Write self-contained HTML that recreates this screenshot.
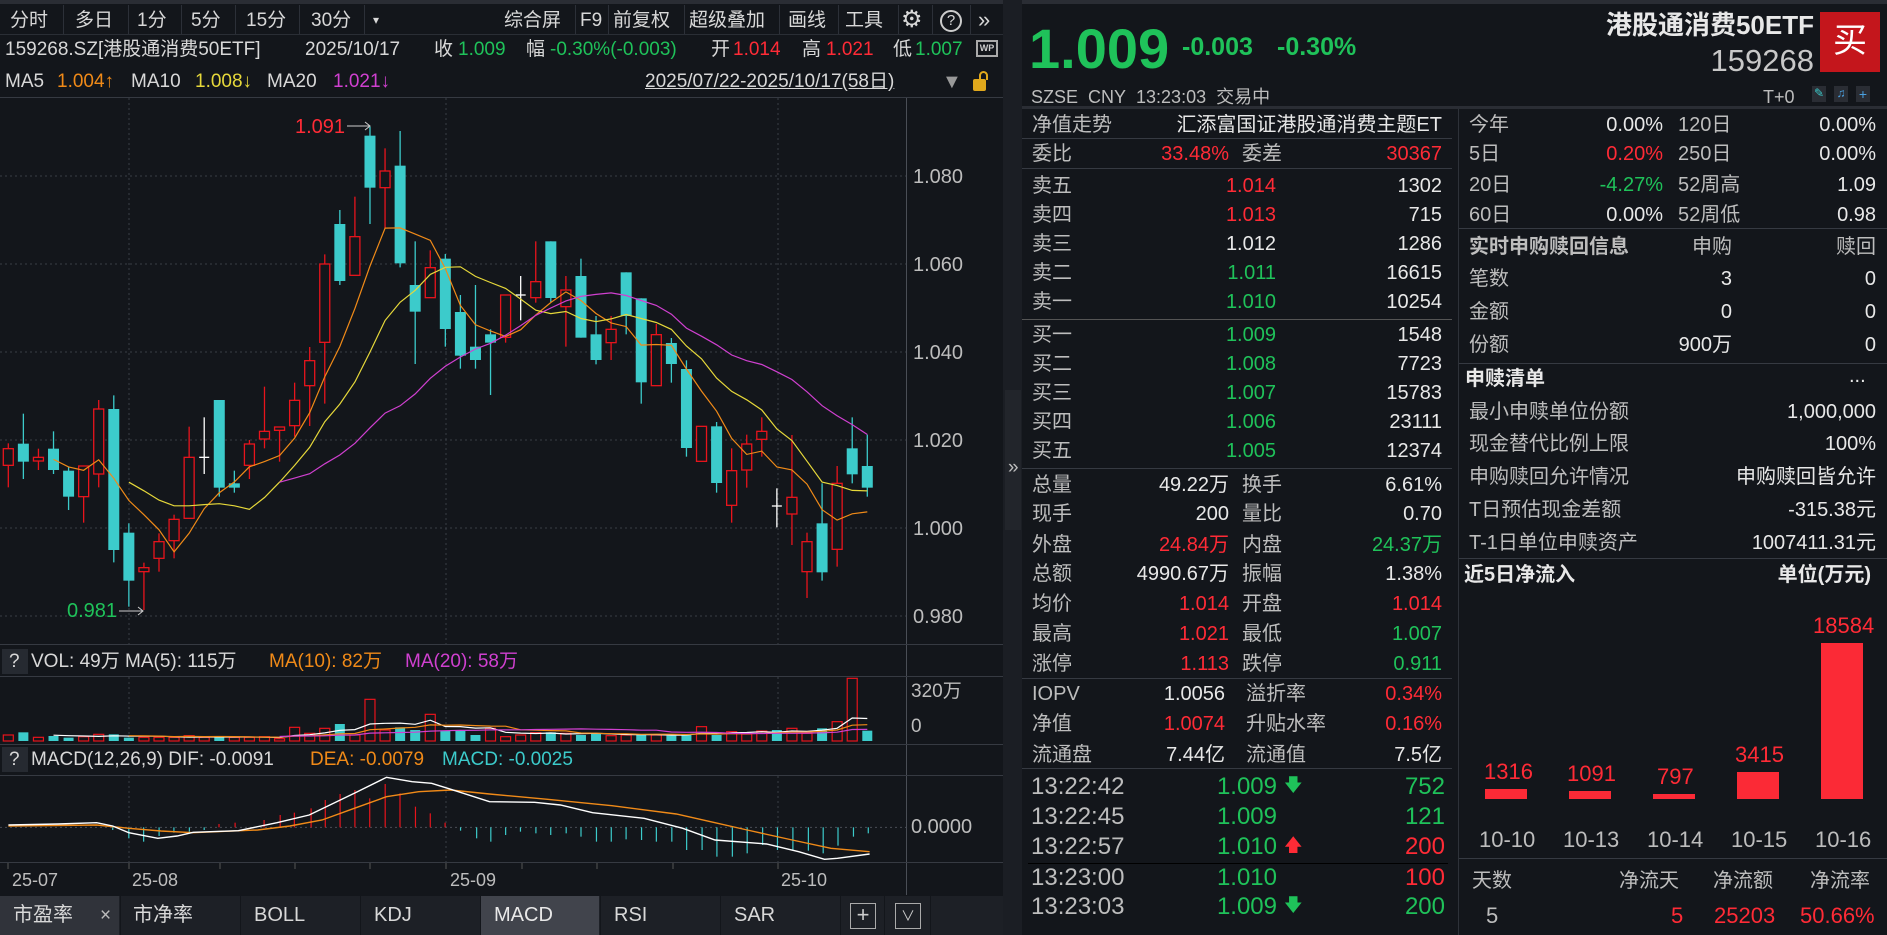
<!DOCTYPE html>
<html><head><meta charset="utf-8">
<style>
*{margin:0;padding:0;box-sizing:border-box}
body{width:1887px;height:935px;background:#13161b;overflow:hidden;font-family:"Liberation Sans","Noto Sans CJK SC",sans-serif;color:#d8d8d8}
.t{position:absolute;white-space:nowrap;line-height:1}
.r{color:#ff2b36}.g{color:#1fc25a}.w{color:#e8e8e8}.l{color:#bdbdbd}.o{color:#f08a18}.y{color:#e6d83a}.m{color:#d040d0}.c{color:#3ccbcb}
.f19{font-size:19px}.f20{font-size:20px}.f22{font-size:22px}.f24{font-size:24px}
.hl{position:absolute;height:1px;background:#363a42}
.vl{position:absolute;width:1px;background:#2c3038}
.b{font-weight:bold}
</style></head><body>
<div style="position:absolute;left:0;top:0;width:1887px;height:4px;background:#2a2d34"></div>
<div style="position:absolute;left:1003px;top:0;width:19px;height:935px;background:#1b1e24"></div>
<div style="position:absolute;left:1005px;top:390px;width:16px;height:140px;background:#22252b"></div>
<div class="t f19 l" style="left:1008px;top:458px">»</div>

<!-- toolbar -->
<div class="t f19" style="left:10px;top:11px">分时</div>
<div class="t f19" style="left:75px;top:11px">多日</div>
<div class="t f19" style="left:137px;top:11px">1分</div>
<div class="t f19" style="left:191px;top:11px">5分</div>
<div class="t f19" style="left:246px;top:11px">15分</div>
<div class="t f19" style="left:311px;top:11px">30分</div>
<div class="t" style="left:373px;top:14px;font-size:12px">▾</div>
<div class="vl" style="left:63px;top:5px;height:30px"></div>
<div class="vl" style="left:128px;top:5px;height:30px"></div>
<div class="vl" style="left:181px;top:5px;height:30px"></div>
<div class="vl" style="left:235px;top:5px;height:30px"></div>
<div class="vl" style="left:299px;top:5px;height:30px"></div>
<div class="vl" style="left:364px;top:5px;height:30px"></div>
<div class="t f19" style="left:504px;top:11px">综合屏</div>
<div class="t f19" style="left:580px;top:11px">F9</div>
<div class="t f19" style="left:613px;top:11px">前复权</div>
<div class="t f19" style="left:689px;top:11px">超级叠加</div>
<div class="t f19" style="left:788px;top:11px">画线</div>
<div class="t f19" style="left:845px;top:11px">工具</div>
<div class="t" style="left:901px;top:8px;font-size:24px">⚙</div>
<div style="position:absolute;left:940px;top:10px;width:22px;height:22px;border:2px solid #ccc;border-radius:50%;font-size:15px;text-align:center;line-height:18px">?</div>
<div class="t f22" style="left:978px;top:9px">»</div>
<div class="vl" style="left:575px;top:5px;height:30px"></div>
<div class="vl" style="left:608px;top:5px;height:30px"></div>
<div class="vl" style="left:684px;top:5px;height:30px"></div>
<div class="vl" style="left:779px;top:5px;height:30px"></div>
<div class="vl" style="left:838px;top:5px;height:30px"></div>
<div class="vl" style="left:898px;top:5px;height:30px"></div>
<div class="vl" style="left:932px;top:5px;height:30px"></div>
<div class="vl" style="left:970px;top:5px;height:30px"></div>
<div class="hl" style="left:0;top:34px;width:1003px;background:#2a2e35"></div>

<!-- row2 -->
<div class="t f19" style="left:5px;top:40px">159268.SZ[港股通消费50ETF]</div>
<div class="t f19" style="left:305px;top:40px">2025/10/17</div>
<div class="t f19" style="left:434px;top:40px">收</div><div class="t f19 g" style="left:458px;top:40px">1.009</div>
<div class="t f19" style="left:526px;top:40px">幅</div><div class="t f19 g" style="left:550px;top:40px">-0.30%(-0.003)</div>
<div class="t f19" style="left:711px;top:40px">开</div><div class="t f19 r" style="left:733px;top:40px">1.014</div>
<div class="t f19" style="left:802px;top:40px">高</div><div class="t f19 r" style="left:826px;top:40px">1.021</div>
<div class="t f19" style="left:893px;top:40px">低</div><div class="t f19 g" style="left:915px;top:40px">1.007</div>
<div style="position:absolute;left:976px;top:40px;width:22px;height:17px;border:2px solid #aaa;font-size:9px;font-weight:bold;color:#ccc;text-align:center;line-height:13px">WP</div>
<!-- row3 -->
<div class="t f19" style="left:5px;top:72px">MA5</div><div class="t f19 o" style="left:57px;top:72px">1.004↑</div>
<div class="t f19" style="left:131px;top:72px">MA10</div><div class="t f19 y" style="left:195px;top:72px">1.008↓</div>
<div class="t f19" style="left:267px;top:72px">MA20</div><div class="t f19 m" style="left:333px;top:72px">1.021↓</div>
<div class="t f19" style="left:645px;top:72px;text-decoration:underline">2025/07/22-2025/10/17(58日)</div>
<div class="t" style="left:942px;top:72px;font-size:20px;color:#999">▼</div>
<div style="position:absolute;left:973px;top:79px;width:13px;height:12px;background:#e0a81c;border-radius:2px"></div>
<div style="position:absolute;left:979px;top:71px;width:9px;height:9px;border:2px solid #e0a81c;border-bottom:none;border-radius:5px 5px 0 0"></div>
<div class="hl" style="left:0;top:97px;width:1003px"></div>

<svg id="sv" width="1003" height="935" style="position:absolute;left:0;top:0"></svg>

<div class="t r f20" style="left:295px;top:117px">1.091</div>
<div class="t g f20" style="left:67px;top:601px">0.981</div>
<div class="t f20 l" style="left:913px;top:167px">1.080</div>
<div class="t f20 l" style="left:913px;top:255px">1.060</div>
<div class="t f20 l" style="left:913px;top:343px">1.040</div>
<div class="t f20 l" style="left:913px;top:431px">1.020</div>
<div class="t f20 l" style="left:913px;top:519px">1.000</div>
<div class="t f20 l" style="left:913px;top:607px">0.980</div>

<div class="hl" style="left:0;top:644px;width:1003px"></div>
<div style="position:absolute;left:2px;top:649px;width:26px;height:25px;background:#262a31"></div>
<div class="t f19" style="left:9px;top:652px">?</div>
<div class="t f19" style="left:31px;top:652px">VOL: 49万 MA(5): 115万</div>
<div class="t f19 o" style="left:269px;top:652px">MA(10): 82万</div>
<div class="t f19 m" style="left:405px;top:652px">MA(20): 58万</div>
<div class="hl" style="left:0;top:676px;width:1003px"></div>
<div class="t f19 l" style="left:911px;top:682px">320万</div>
<div class="t f19 l" style="left:911px;top:717px">0</div>
<div class="hl" style="left:0;top:744px;width:1003px"></div>
<div style="position:absolute;left:2px;top:747px;width:26px;height:25px;background:#262a31"></div>
<div class="t f19" style="left:9px;top:750px">?</div>
<div class="t f19" style="left:31px;top:750px">MACD(12,26,9) DIF: -0.0091</div>
<div class="t f19 o" style="left:310px;top:750px">DEA: -0.0079</div>
<div class="t f19 c" style="left:442px;top:750px">MACD: -0.0025</div>
<div class="hl" style="left:0;top:775px;width:1003px"></div>
<div class="t f20 l" style="left:911px;top:817px">0.0000</div>
<div class="hl" style="left:0;top:862px;width:1003px"></div>
<div class="t l" style="left:12px;top:871px;font-size:18px">25-07</div>
<div class="t l" style="left:132px;top:871px;font-size:18px">25-08</div>
<div class="t l" style="left:450px;top:871px;font-size:18px">25-09</div>
<div class="t l" style="left:781px;top:871px;font-size:18px">25-10</div>

<!-- bottom tabs -->
<div style="position:absolute;left:0;top:896px;width:1003px;height:39px;background:#1d2026"></div>
<div style="position:absolute;left:0;top:896px;width:119px;height:39px;background:#30333a"></div>
<div style="position:absolute;left:481px;top:896px;width:118px;height:39px;background:#41444c"></div>
<div class="vl" style="left:120px;top:896px;height:39px;background:#13161b"></div>
<div class="vl" style="left:240px;top:896px;height:39px;background:#13161b"></div>
<div class="vl" style="left:360px;top:896px;height:39px;background:#13161b"></div>
<div class="vl" style="left:480px;top:896px;height:39px;background:#13161b"></div>
<div class="vl" style="left:600px;top:896px;height:39px;background:#13161b"></div>
<div class="vl" style="left:720px;top:896px;height:39px;background:#13161b"></div>
<div class="vl" style="left:840px;top:896px;height:39px;background:#13161b"></div>
<div class="vl" style="left:884px;top:896px;height:39px;background:#13161b"></div>
<div class="vl" style="left:930px;top:896px;height:39px;background:#13161b"></div>
<div class="t f20" style="left:13px;top:905px">市盈率</div><div class="t f19 l" style="left:100px;top:906px">×</div>
<div class="t f20" style="left:133px;top:905px">市净率</div>
<div class="t f20" style="left:254px;top:905px">BOLL</div>
<div class="t f20" style="left:374px;top:905px">KDJ</div>
<div class="t f20 w" style="left:494px;top:905px">MACD</div>
<div class="t f20" style="left:614px;top:905px">RSI</div>
<div class="t f20" style="left:734px;top:905px">SAR</div>
<div style="position:absolute;left:850px;top:903px;width:26px;height:26px;border:1px solid #aaa;color:#ccc;text-align:center;font-size:22px;line-height:22px">+</div>
<div style="position:absolute;left:895px;top:903px;width:26px;height:26px;border:1px solid #aaa;color:#ccc;text-align:center;font-size:14px;line-height:24px">∨</div>

<!-- header right -->
<div class="t g b" style="left:1029px;top:21px;font-size:56px">1.009</div>
<div class="t g b" style="left:1182px;top:35px;font-size:25px">-0.003</div>
<div class="t g b" style="left:1277px;top:35px;font-size:25px">-0.30%</div>
<div class="t w b" style="right:73px;top:12px;font-size:26px">港股通消费50ETF</div>
<div class="t" style="right:73px;top:45px;font-size:31px;color:#c8c8c8">159268</div>
<div style="position:absolute;left:1820px;top:12px;width:60px;height:60px;background:#c4161c;color:#fff;font-size:34px;text-align:center;line-height:58px">买</div>
<div class="t l" style="left:1031px;top:88px;font-size:18px">SZSE&nbsp; CNY&nbsp; 13:23:03&nbsp; 交易中</div>
<div class="t l" style="left:1763px;top:88px;font-size:18px">T+0</div>
<div style="position:absolute;left:1812px;top:86px;width:14px;height:16px;background:#2a2d34;color:#3ccbcb;font-size:12px;text-align:center">✎</div>
<div style="position:absolute;left:1834px;top:86px;width:14px;height:16px;background:#2a2d34;color:#4aa0e0;font-size:12px;text-align:center">♫</div>
<div style="position:absolute;left:1856px;top:86px;width:14px;height:16px;background:#2a2d34;color:#4aa0e0;font-size:14px;line-height:16px;text-align:center">+</div>
<div class="hl" style="left:1022px;top:106px;width:865px;background:#2a2d34;height:3px"></div>

<!-- order book -->
<div class="vl" style="left:1458px;top:109px;height:826px;background:#2e3239"></div>
<div class="t f20 l" style="left:1032px;top:115px">净值走势</div>
<div class="t f20 w" style="right:445px;top:115px">汇添富国证港股通消费主题ET</div>
<div class="hl" style="left:1022px;top:138px;width:430px"></div>
<div class="t f20 l" style="left:1032px;top:144px">委比</div>
<div class="t f20 r" style="right:658px;top:144px">33.48%</div>
<div class="t f20 l" style="left:1242px;top:144px">委差</div>
<div class="t f20 r" style="right:445px;top:144px">30367</div>
<div class="hl" style="left:1022px;top:168px;width:430px"></div>
<div class="t f20 l" style="left:1032px;top:176px">卖五</div><div class="t f20 r" style="right:611px;top:176px">1.014</div><div class="t f20 w" style="right:445px;top:176px">1302</div>
<div class="t f20 l" style="left:1032px;top:205px">卖四</div><div class="t f20 r" style="right:611px;top:205px">1.013</div><div class="t f20 w" style="right:445px;top:205px">715</div>
<div class="t f20 l" style="left:1032px;top:234px">卖三</div><div class="t f20 w" style="right:611px;top:234px">1.012</div><div class="t f20 w" style="right:445px;top:234px">1286</div>
<div class="t f20 l" style="left:1032px;top:263px">卖二</div><div class="t f20 g" style="right:611px;top:263px">1.011</div><div class="t f20 w" style="right:445px;top:263px">16615</div>
<div class="t f20 l" style="left:1032px;top:292px">卖一</div><div class="t f20 g" style="right:611px;top:292px">1.010</div><div class="t f20 w" style="right:445px;top:292px">10254</div>
<div class="hl" style="left:1022px;top:319px;width:430px;background:#555"></div>
<div class="t f20 l" style="left:1032px;top:325px">买一</div><div class="t f20 g" style="right:611px;top:325px">1.009</div><div class="t f20 w" style="right:445px;top:325px">1548</div>
<div class="t f20 l" style="left:1032px;top:354px">买二</div><div class="t f20 g" style="right:611px;top:354px">1.008</div><div class="t f20 w" style="right:445px;top:354px">7723</div>
<div class="t f20 l" style="left:1032px;top:383px">买三</div><div class="t f20 g" style="right:611px;top:383px">1.007</div><div class="t f20 w" style="right:445px;top:383px">15783</div>
<div class="t f20 l" style="left:1032px;top:412px">买四</div><div class="t f20 g" style="right:611px;top:412px">1.006</div><div class="t f20 w" style="right:445px;top:412px">23111</div>
<div class="t f20 l" style="left:1032px;top:441px">买五</div><div class="t f20 g" style="right:611px;top:441px">1.005</div><div class="t f20 w" style="right:445px;top:441px">12374</div>
<div class="hl" style="left:1022px;top:468px;width:430px"></div>
<div class="t f20 l" style="left:1032px;top:475px">总量</div><div class="t f20 w" style="right:658px;top:475px">49.22万</div><div class="t f20 l" style="left:1242px;top:475px">换手</div><div class="t f20 w" style="right:445px;top:475px">6.61%</div>
<div class="t f20 l" style="left:1032px;top:504px">现手</div><div class="t f20 w" style="right:658px;top:504px">200</div><div class="t f20 l" style="left:1242px;top:504px">量比</div><div class="t f20 w" style="right:445px;top:504px">0.70</div>
<div class="t f20 l" style="left:1032px;top:535px">外盘</div><div class="t f20 r" style="right:658px;top:535px">24.84万</div><div class="t f20 l" style="left:1242px;top:535px">内盘</div><div class="t f20 g" style="right:445px;top:535px">24.37万</div>
<div class="t f20 l" style="left:1032px;top:564px">总额</div><div class="t f20 w" style="right:658px;top:564px">4990.67万</div><div class="t f20 l" style="left:1242px;top:564px">振幅</div><div class="t f20 w" style="right:445px;top:564px">1.38%</div>
<div class="t f20 l" style="left:1032px;top:594px">均价</div><div class="t f20 r" style="right:658px;top:594px">1.014</div><div class="t f20 l" style="left:1242px;top:594px">开盘</div><div class="t f20 r" style="right:445px;top:594px">1.014</div>
<div class="t f20 l" style="left:1032px;top:624px">最高</div><div class="t f20 r" style="right:658px;top:624px">1.021</div><div class="t f20 l" style="left:1242px;top:624px">最低</div><div class="t f20 g" style="right:445px;top:624px">1.007</div>
<div class="t f20 l" style="left:1032px;top:654px">涨停</div><div class="t f20 r" style="right:658px;top:654px">1.113</div><div class="t f20 l" style="left:1242px;top:654px">跌停</div><div class="t f20 g" style="right:445px;top:654px">0.911</div>
<div class="hl" style="left:1022px;top:678px;width:430px"></div>
<div class="t f20 l" style="left:1032px;top:684px">IOPV</div><div class="t f20 w" style="right:662px;top:684px">1.0056</div><div class="t f20 l" style="left:1246px;top:684px">溢折率</div><div class="t f20 r" style="right:445px;top:684px">0.34%</div>
<div class="t f20 l" style="left:1032px;top:714px">净值</div><div class="t f20 r" style="right:662px;top:714px">1.0074</div><div class="t f20 l" style="left:1246px;top:714px">升贴水率</div><div class="t f20 r" style="right:445px;top:714px">0.16%</div>
<div class="t f20 l" style="left:1032px;top:745px">流通盘</div><div class="t f20 w" style="right:662px;top:745px">7.44亿</div><div class="t f20 l" style="left:1246px;top:745px">流通值</div><div class="t f20 w" style="right:445px;top:745px">7.5亿</div>
<div class="hl" style="left:1022px;top:768px;width:430px"></div>
<div class="t f24 l" style="left:1031px;top:775px">13:22:42</div><div class="t f24 g" style="right:610px;top:775px">1.009</div><div class="t g" style="left:1284px;top:776px;font-size:18px">🡇</div><div class="t f24 g" style="right:442px;top:775px">752</div>
<div class="t f24 l" style="left:1031px;top:805px">13:22:45</div><div class="t f24 g" style="right:610px;top:805px">1.009</div><div class="t f24 g" style="right:442px;top:805px">121</div>
<div class="t f24 l" style="left:1031px;top:835px">13:22:57</div><div class="t f24 g" style="right:610px;top:835px">1.010</div><div class="t r" style="left:1284px;top:836px;font-size:18px">🡅</div><div class="t f24 r" style="right:442px;top:835px">200</div>
<div class="hl" style="left:1028px;top:863px;width:420px;background:#000"></div>
<div class="t f24 l" style="left:1031px;top:866px">13:23:00</div><div class="t f24 g" style="right:610px;top:866px">1.010</div><div class="t f24 r" style="right:442px;top:866px">100</div>
<div class="t f24 l" style="left:1031px;top:895px">13:23:03</div><div class="t f24 g" style="right:610px;top:895px">1.009</div><div class="t g" style="left:1284px;top:896px;font-size:18px">🡇</div><div class="t f24 g" style="right:442px;top:895px">200</div>

<!-- right column -->
<div class="t f20 l" style="left:1469px;top:115px">今年</div><div class="t f20 w" style="right:224px;top:115px">0.00%</div><div class="t f20 l" style="left:1678px;top:115px">120日</div><div class="t f20 w" style="right:11px;top:115px">0.00%</div>
<div class="t f20 l" style="left:1469px;top:144px">5日</div><div class="t f20 r" style="right:224px;top:144px">0.20%</div><div class="t f20 l" style="left:1678px;top:144px">250日</div><div class="t f20 w" style="right:11px;top:144px">0.00%</div>
<div class="t f20 l" style="left:1469px;top:175px">20日</div><div class="t f20 g" style="right:224px;top:175px">-4.27%</div><div class="t f20 l" style="left:1678px;top:175px">52周高</div><div class="t f20 w" style="right:11px;top:175px">1.09</div>
<div class="t f20 l" style="left:1469px;top:205px">60日</div><div class="t f20 w" style="right:224px;top:205px">0.00%</div><div class="t f20 l" style="left:1678px;top:205px">52周低</div><div class="t f20 w" style="right:11px;top:205px">0.98</div>
<div class="hl" style="left:1459px;top:228px;width:428px"></div>
<div class="t f20 l b" style="left:1469px;top:237px">实时申购赎回信息</div><div class="t f20 l" style="right:155px;top:237px">申购</div><div class="t f20 l" style="right:11px;top:237px">赎回</div>
<div class="t f20 l" style="left:1469px;top:269px">笔数</div><div class="t f20 w" style="right:155px;top:269px">3</div><div class="t f20 w" style="right:11px;top:269px">0</div>
<div class="t f20 l" style="left:1469px;top:302px">金额</div><div class="t f20 w" style="right:155px;top:302px">0</div><div class="t f20 w" style="right:11px;top:302px">0</div>
<div class="t f20 l" style="left:1469px;top:335px">份额</div><div class="t f20 w" style="right:155px;top:335px">900万</div><div class="t f20 w" style="right:11px;top:335px">0</div>
<div class="hl" style="left:1459px;top:363px;width:428px"></div>
<div class="t f20 w b" style="left:1465px;top:369px">申赎清单</div><div class="t f20 w" style="left:1849px;top:366px">...</div>
<div class="t f20 l" style="left:1469px;top:402px">最小申赎单位份额</div><div class="t f20 w" style="right:11px;top:402px">1,000,000</div>
<div class="t f20 l" style="left:1469px;top:434px">现金替代比例上限</div><div class="t f20 w" style="right:11px;top:434px">100%</div>
<div class="t f20 l" style="left:1469px;top:467px">申购赎回允许情况</div><div class="t f20 w" style="right:11px;top:467px">申购赎回皆允许</div>
<div class="t f20 l" style="left:1469px;top:500px">T日预估现金差额</div><div class="t f20 w" style="right:11px;top:500px">-315.38元</div>
<div class="t f20 l" style="left:1469px;top:533px">T-1日单位申赎资产</div><div class="t f20 w" style="right:11px;top:533px">1007411.31元</div>
<div class="hl" style="left:1459px;top:558px;width:428px"></div>
<div class="t f20 w b" style="left:1464px;top:565px">近5日净流入</div><div class="t f20 w b" style="right:16px;top:565px">单位(万元)</div>
<div style="position:absolute;left:1485px;top:789px;width:42px;height:10px;background:#fb2a36"></div>
<div style="position:absolute;left:1569px;top:791px;width:42px;height:8px;background:#fb2a36"></div>
<div style="position:absolute;left:1653px;top:794px;width:42px;height:5px;background:#fb2a36"></div>
<div style="position:absolute;left:1737px;top:772px;width:42px;height:27px;background:#fb2a36"></div>
<div style="position:absolute;left:1821px;top:643px;width:42px;height:156px;background:#fb2a36"></div>
<div class="t f22 r" style="left:1484px;top:761px">1316</div>
<div class="t f22 r" style="left:1567px;top:763px">1091</div>
<div class="t f22 r" style="left:1657px;top:766px">797</div>
<div class="t f22 r" style="left:1735px;top:744px">3415</div>
<div class="t f22 r" style="left:1813px;top:615px">18584</div>
<div class="t f22 l" style="left:1479px;top:829px">10-10</div>
<div class="t f22 l" style="left:1563px;top:829px">10-13</div>
<div class="t f22 l" style="left:1647px;top:829px">10-14</div>
<div class="t f22 l" style="left:1731px;top:829px">10-15</div>
<div class="t f22 l" style="left:1815px;top:829px">10-16</div>
<div class="hl" style="left:1459px;top:858px;width:428px"></div>
<div class="t f20 l" style="left:1472px;top:871px">天数</div>
<div class="t f20 l" style="right:655px;top:871px;right:auto;left:1619px">净流天</div>
<div class="t f20 l" style="left:1713px;top:871px">净流额</div>
<div class="t f20 l" style="left:1810px;top:871px">净流率</div>
<div class="t f22 l" style="left:1486px;top:905px">5</div>
<div class="t f22 r" style="left:1671px;top:905px">5</div>
<div class="t f22 r" style="left:1714px;top:905px">25203</div>
<div class="t f22 r" style="left:1800px;top:905px">50.66%</div>

<script>
const C=[['R',1046,1096,1030,1162],['C',1031,1085,941,1137],['R',1072,1083,1046,1110],['C',1046,1110,994,1122],['C',1112,1190,1100,1230],['R',1098,1190,1098,1268],['R',927,1122,900,1162],['C',927,1350,886,1387],['C',1298,1442,1270,1520],['R',1403,1415,1388,1530],['R',1325,1375,1300,1415],['R',1258,1322,1244,1375],['R',1072,1255,980,1255],['W',1072,1072,952,1122],['C',900,1163,900,1190],['C',1150,1163,1112,1178],['R',1032,1096,1020,1137],['R',994,1017,860,1045],['R',981,991,981,1085],['R',901,977,848,1010],['R',782,857,741,978],['R',492,727,463,911],['C',372,543,330,555],['R',410,526,290,526],['C',107,263,80,372],['R',213,263,145,385],['C',197,490,93,502],['C',555,635,424,792],['R',503,593,451,593],['C',476,687,462,740],['C',636,767,585,806],['C',740,780,555,806],['C',703,728,688,885],['R',585,712,585,728],['W',585,585,528,661],['R',545,593,424,608],['C',424,594,424,606],['R',570,620,528,740],['C',528,713,476,713],['C',703,780,648,793],['R',688,728,648,780],['C',517,648,517,703],['C',595,847,595,911],['R',704,857,672,857],['C',729,792,714,848],['C',807,1044,781,1070],['R',979,1084,979,1084],['C',979,1149,966,1178],['R',1112,1216,1045,1268],['R',1032,1110,1004,1163],['R',994,1018,952,1070],['W',1218,1218,1165,1282],['R',1192,1242,1005,1335],['R',1325,1415,1298,1494],['C',1270,1417,1150,1442],['R',1150,1348,1098,1400],['C',1045,1123,952,1150],['C',1098,1163,1004,1190]];
const V=[[285,'r'],[277,'c'],[292,'r'],[288,'c'],[293,'c'],[290,'r'],[283,'r'],[283,'c'],[293,'c'],[292,'r'],[292,'r'],[292,'r'],[287,'r'],[292,'r'],[292,'c'],[292,'r'],[292,'r'],[290,'r'],[296,'r'],[262,'r'],[280,'r'],[265,'r'],[252,'c'],[285,'r'],[178,'r'],[270,'r'],[262,'c'],[270,'c'],[223,'r'],[272,'c'],[272,'c'],[285,'c'],[265,'r'],[290,'r'],[285,'r'],[278,'r'],[277,'c'],[280,'r'],[285,'c'],[280,'c'],[287,'r'],[285,'r'],[283,'c'],[285,'r'],[287,'c'],[285,'c'],[260,'r'],[285,'c'],[275,'r'],[282,'r'],[273,'r'],[270,'c'],[265,'r'],[280,'r'],[265,'c'],[245,'r'],[115,'r'],[272,'c']];
const X=i=>8.3+15.07*i, Y=v=>100+v/3;
const RED='#e8141c',CY='#3ccbcb',BG='#13161b';
let s='';
// grid
[176,264,352,440,528,616].forEach(y=>s+=`<line x1="0" x2="906" y1="${y}" y2="${y}" stroke="#3a3e46" stroke-dasharray="2,3"/>`);
[129,446,778].forEach(x=>{s+=`<line x1="${x}" x2="${x}" y1="98" y2="644" stroke="#3a3e46" stroke-dasharray="2,3"/>`;s+=`<line x1="${x}" x2="${x}" y1="677" y2="741" stroke="#3a3e46" stroke-dasharray="2,3"/>`;s+=`<line x1="${x}" x2="${x}" y1="776" y2="862" stroke="#3a3e46" stroke-dasharray="2,3"/>`;});
[8,129,220,295,370,446,522,597,673,778].forEach(x=>s+=`<line x1="${x}" x2="${x}" y1="862" y2="869" stroke="#555"/>`);
s+=`<line x1="906.5" x2="906.5" y1="98" y2="895" stroke="#4a4e56"/>`;
// candles
const cl=[];
C.forEach((c,i)=>{const x=X(i);const [t,a,b,h,l]=c;
 if(t==='W'){s+=`<line x1="${x}" x2="${x}" y1="${Y(h)}" y2="${Y(l)}" stroke="#fff" stroke-width="1.3"/><line x1="${x-5}" x2="${x+5}" y1="${Y(a)}" y2="${Y(a)}" stroke="#fff" stroke-width="1.3"/>`;cl.push(a);}
 else if(t==='R'){s+=`<line x1="${x}" x2="${x}" y1="${Y(h)}" y2="${Y(l)}" stroke="${RED}" stroke-width="1.3"/><rect x="${x-5}" y="${Y(a)}" width="10" height="${Math.max(1,(b-a)/3)}" fill="${BG}" stroke="${RED}" stroke-width="1.3"/>`;cl.push(a);}
 else{s+=`<line x1="${x}" x2="${x}" y1="${Y(h)}" y2="${Y(l)}" stroke="${CY}" stroke-width="1.3"/><rect x="${x-5.5}" y="${Y(a)}" width="11" height="${Math.max(1,(b-a)/3)}" fill="${CY}"/>`;cl.push(b);}
});
function ma(arr,n,st,col,fy,fx){let p=[];for(let i=st;i<arr.length;i++){let k=Math.min(n,i+1),sm=0;for(let j=i-k+1;j<=i;j++)sm+=arr[j];p.push(fx(i).toFixed(1)+','+fy(sm/k).toFixed(1));}return `<polyline points="${p.join(' ')}" fill="none" stroke="${col}" stroke-width="1.2"/>`;}
s+=ma(cl,5,3,'#f08a18',Y,X);s+=ma(cl,10,8,'#e6d83a',Y,X);s+=ma(cl,20,18,'#d040d0',Y,X);
// hi lo markers
s+=`<line x1="347" x2="370" y1="126" y2="126" stroke="#ccc"/><path d="M365,122 L370,126 L365,130" fill="none" stroke="#ccc"/>`;
s+=`<line x1="119" x2="143" y1="611" y2="611" stroke="#ccc"/><path d="M138,607 L143,611 L138,615" fill="none" stroke="#ccc"/>`;
// volume
const vy=v=>640+v/3, vh=[];
V.forEach((v,i)=>{const x=X(i);const top=vy(v[0]),bot=vy(303);vh.push(303-v[0]);
 if(v[1]==='c')s+=`<rect x="${x-5}" y="${top}" width="10" height="${bot-top}" fill="${CY}"/>`;
 else s+=`<rect x="${x-5}" y="${top}" width="10" height="${bot-top}" fill="${BG}" stroke="${RED}" stroke-width="1.2"/>`;});
const vf=h=>vy(303-h);
s+=ma(vh,5,3,'#ffffff',vf,X);s+=ma(vh,10,8,'#f08a18',vf,X);s+=ma(vh,20,18,'#d040d0',vf,X);
// macd
const mx=x=>x/1.5525, my=y=>640+y/3;
s+=`<line x1="0" x2="906" y1="${my(562)}" y2="${my(562)}" stroke="#4a4e56" stroke-dasharray="2,3"/>`;
const red=[[340,552],[365,548],[410,540],[435,525],[457,518],[483,505],[505,480],[528,462],[551,450],[574,475],[598,432],[621,460],[645,500],[668,520],[691,548]];
const cyn=[[175,570],[200,595],[223,605],[247,588],[270,578],[294,575],[317,570],[715,572],[740,595],[762,605],[785,585],[808,575],[832,580],[855,585],[879,580],[902,590],[926,605],[949,605],[972,598],[996,600],[1019,605],[1043,605],[1066,630],[1090,630],[1113,650],[1137,650],[1160,640],[1184,615],[1207,630],[1231,632],[1255,632],[1278,640],[1301,617],[1325,590],[1348,580]];
red.forEach(b=>s+=`<line x1="${mx(b[0])}" x2="${mx(b[0])}" y1="${my(562)}" y2="${my(b[1])}" stroke="${RED}" stroke-width="1.2"/>`);
cyn.forEach(b=>s+=`<line x1="${mx(b[0])}" x2="${mx(b[0])}" y1="${my(562)}" y2="${my(b[1])}" stroke="${CY}" stroke-width="1.2"/>`);
const dif=[[13,555],[90,552],[150,548],[175,558],[200,578],[245,595],[275,588],[300,577],[370,572],[430,548],[480,525],[550,460],[600,412],[640,425],[670,430],[700,448],[760,485],[830,487],[870,495],[920,518],[1000,535],[1060,565],[1110,600],[1190,612],[1240,635],[1280,658],[1300,655],[1350,642]];
const dea=[[13,558],[150,555],[200,565],[250,573],[300,578],[400,570],[450,558],[500,540],[550,505],[600,470],[650,455],[700,450],[760,462],[850,478],[950,497],[1050,522],[1110,548],[1160,570],[1230,600],[1290,625],[1350,635]];
const pl=(a,c)=>`<polyline points="${a.map(p=>mx(p[0]).toFixed(1)+','+my(p[1]).toFixed(1)).join(' ')}" fill="none" stroke="${c}" stroke-width="1.4"/>`;
s+=pl(dea,'#f08a18')+pl(dif,'#ffffff');
document.getElementById('sv').innerHTML=s;
</script>
</body></html>
